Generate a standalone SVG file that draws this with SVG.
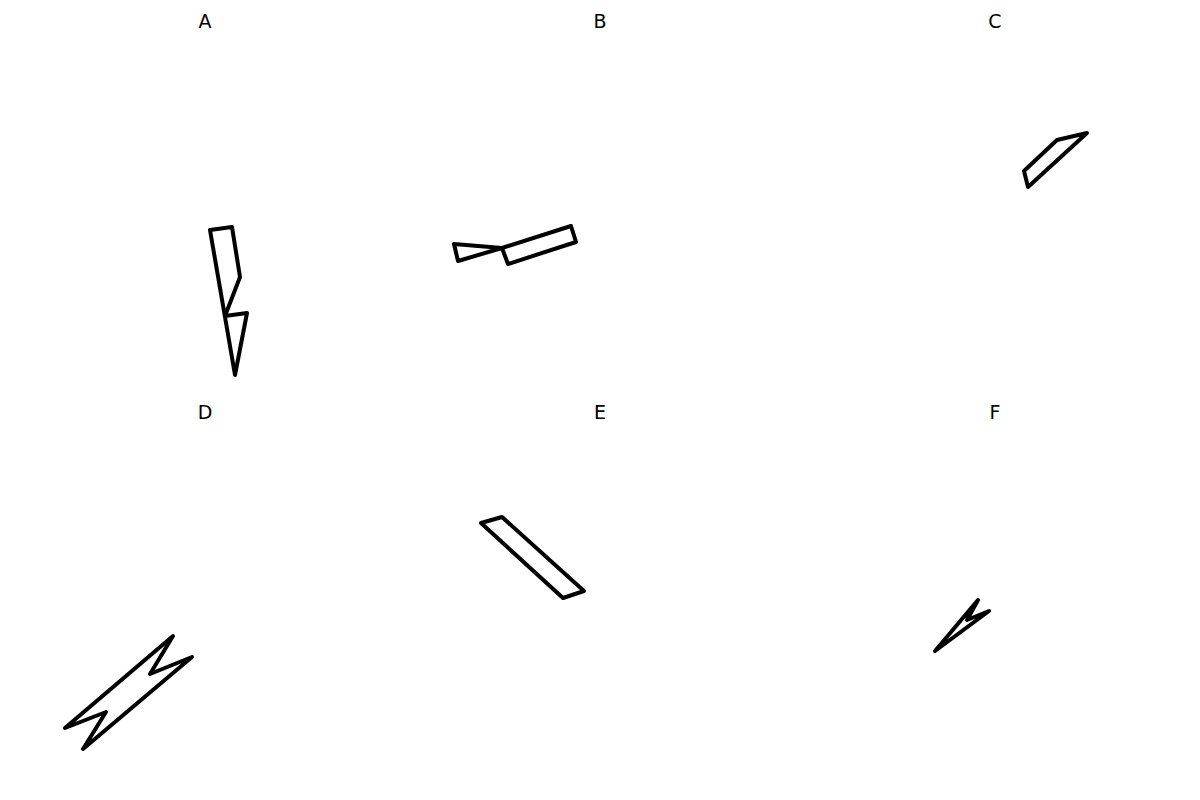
<svg xmlns="http://www.w3.org/2000/svg" width="1200" height="800" viewBox="0 0 1200 800">
<style>
.lbl{font-family:"DejaVu Sans",sans-serif;font-size:19px;fill:#000;text-anchor:middle}
.shp{fill:none;stroke:#000;stroke-width:4;stroke-linejoin:round;stroke-linecap:round}
</style>
<rect width="1200" height="800" fill="#fff"/>
<g id="A"><text class="lbl" x="205" y="28">A</text>
<polygon class="shp" points="210,230 232,227 240,277 225,316 247,313 235,375"/></g>
<g id="B"><text class="lbl" x="600" y="28">B</text>
<polygon class="shp" points="454,244 502,248 571,226 576,242 508,264 502,248 458,261"/></g>
<g id="C"><text class="lbl" x="995" y="28">C</text>
<polygon class="shp" points="1024,171 1057,140 1087,133 1028,187"/></g>
<g id="D"><text class="lbl" x="205" y="419">D</text>
<polygon class="shp" points="173,636 150,674 192,657 83,749 106,712 65,728"/></g>
<g id="E"><text class="lbl" x="600" y="419">E</text>
<polygon class="shp" points="481,523 502,517 584,591 563,598"/></g>
<g id="F"><text class="lbl" x="995" y="419">F</text>
<polygon class="shp" points="935,651 978,600 967,620 989,611"/></g>
<g id="connectors"></g>
</svg>
